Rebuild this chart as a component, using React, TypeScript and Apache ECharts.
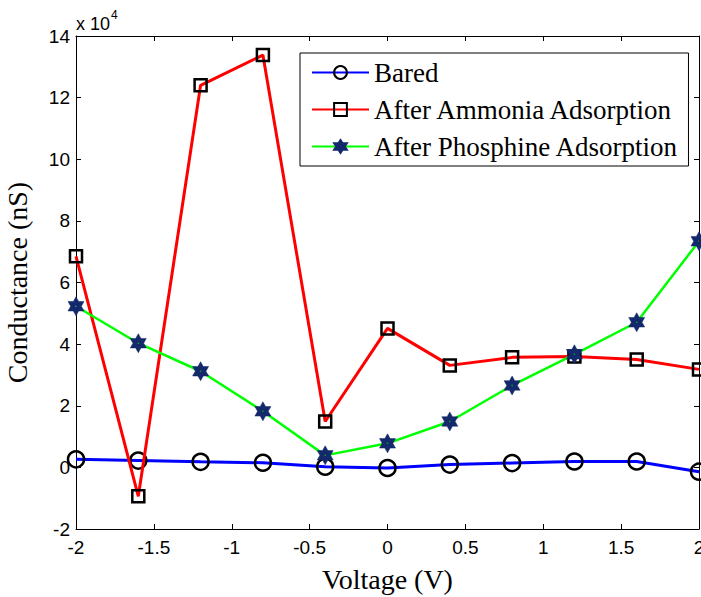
import React, { useEffect, useRef } from "react";
import * as echarts from "echarts";

const voltage = [-2, -1.6, -1.2, -0.8, -0.4, 0, 0.4, 0.8, 1.2, 1.6, 2];
const bared = [2600, 2200, 1800, 1500, 200, -200, 900, 1400, 1900, 1900, -1400];
const ammonia = [68500, -9400, 124000, 133800, 14900, 45100, 33100, 35700, 36000, 35000, 31800];
const phosphine = [52300, 40300, 31200, 18200, 3900, 7800, 14900, 26600, 36700, 47100, 73400];
const seriesNames = ["Bared", "After Ammonia Adsorption", "After Phosphine Adsorption"];
const xLabel = "Voltage (V)";
const yLabel = "Conductance (nS)";

const hexagram =
  "path://M50 0 L64.43 25 L93.3 25 L78.87 50 L93.3 75 L64.43 75 L50 100 L35.57 75 L6.7 75 L21.13 50 L6.7 25 L35.57 25 Z M46 46 L46 54 L54 54 L54 46 Z";

const pairs = (ys: number[]) => voltage.map((x, i) => [x, ys[i]]);

export default function App() {
  const ref = useRef<HTMLDivElement>(null);
  useEffect(() => {
    if (!ref.current) return;
    const chart = echarts.init(ref.current, undefined, { renderer: "svg" });
    const sans = '"Liberation Sans", Arial, sans-serif';
    const serif = '"Liberation Serif", "Times New Roman", serif';
    const axisCommon = {
      axisLine: { show: true, onZero: false, lineStyle: { color: "#000", width: 1 } },
      axisTick: { show: true, inside: true, length: 5, lineStyle: { color: "#000" } },
      splitLine: { show: false },
    };
    chart.setOption({
      animation: false,
      backgroundColor: "#fff",
      grid: {
        left: 76,
        right: 2,
        top: 36,
        bottom: 68,
        containLabel: false,
        outerBoundsMode: "none",
      },
      xAxis: [
        {
          type: "value",
          min: -2,
          max: 2,
          interval: 0.5,
          position: "bottom",
          ...axisCommon,
          axisLabel: { color: "#000", fontSize: 19, fontFamily: sans, margin: 9 },
          name: xLabel,
          nameLocation: "middle",
          nameGap: 36,
          nameTextStyle: { color: "#000", fontSize: 28, fontFamily: serif },
        },
        {
          type: "value",
          min: -2,
          max: 2,
          interval: 0.5,
          position: "top",
          ...axisCommon,
          axisLabel: { show: false },
        },
      ],
      yAxis: [
        {
          type: "value",
          min: -20000,
          max: 140000,
          interval: 20000,
          position: "left",
          ...axisCommon,
          axisLabel: {
            color: "#000",
            fontSize: 19,
            fontFamily: sans,
            margin: 6,
            formatter: (v: number) => String(Math.round(v / 10000)),
          },
          name: yLabel,
          nameLocation: "middle",
          nameGap: 45,
          nameTextStyle: { color: "#000", fontSize: 28, fontFamily: serif },
        },
        {
          type: "value",
          min: -20000,
          max: 140000,
          interval: 20000,
          position: "right",
          ...axisCommon,
          axisLabel: { show: false },
        },
      ],
      legend: {
        show: true,
        left: 300,
        top: 53,
        orient: "vertical",
        itemWidth: 57,
        itemHeight: 16,
        itemGap: 10,
        padding: [6, 10, 6, 11],
        borderColor: "#000",
        borderWidth: 1,
        borderRadius: 0,
        backgroundColor: "#fff",
        textStyle: { color: "#000", fontSize: 27, fontFamily: serif, lineHeight: 26 },
        data: seriesNames,
      },
      graphic: [
        {
          type: "text",
          left: 76,
          top: 9,
          style: {
            text: "{a|x 10}{b|4}",
            rich: {
              a: { fontSize: 18, fontFamily: sans, fill: "#000", padding: [8, 0, 0, 0] },
              b: { fontSize: 12, fontFamily: sans, fill: "#000", padding: [0, 0, 10, 1] },
            },
          },
        },
      ],
      series: [
        {
          name: seriesNames[0],
          type: "line",
          data: pairs(bared),
          symbol: "circle",
          symbolSize: 16,
          showAllSymbol: true,
          lineStyle: { color: "#0000ff", width: 3 },
          itemStyle: { color: "rgba(0,0,0,0)", borderColor: "#000", borderWidth: 2.5 },
          z: 2,
        },
        {
          name: seriesNames[1],
          type: "line",
          data: pairs(ammonia),
          symbol: "rect",
          symbolSize: 12,
          showAllSymbol: true,
          lineStyle: { color: "#ff0000", width: 3 },
          itemStyle: { color: "rgba(0,0,0,0)", borderColor: "#000", borderWidth: 2.5 },
          z: 3,
        },
        {
          name: seriesNames[2],
          type: "line",
          data: pairs(phosphine),
          symbol: hexagram,
          symbolSize: [16, 19],
          showAllSymbol: true,
          lineStyle: { color: "#00ff00", width: 2.5 },
          itemStyle: { color: "#13296b", borderColor: "#13296b", borderWidth: 0.5 },
          z: 4,
        },
      ],
    });
    return () => chart.dispose();
  }, []);
  return (
    <div
      ref={ref}
      style={{ position: "fixed", left: 0, top: 0, width: 701, height: 597, background: "#fff" }}
    />
  );
}
